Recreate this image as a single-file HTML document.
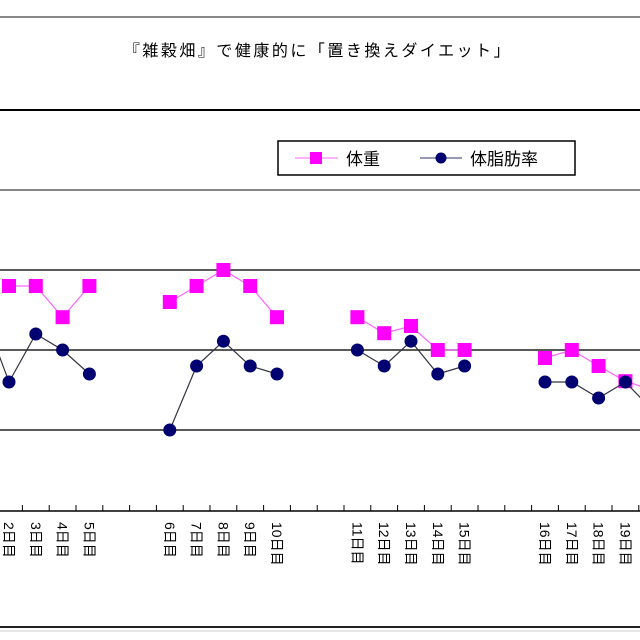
<!DOCTYPE html>
<html><head><meta charset="utf-8"><style>
body{margin:0;width:640px;height:640px;background:#fff;overflow:hidden;font-family:"Liberation Sans","Noto Sans CJK JP",sans-serif}
</style></head><body>
<svg id="c" width="640" height="640" style="position:absolute;left:0;top:0">
<line x1="0" y1="17" x2="640" y2="17" stroke="#888" stroke-width="2"/>
<text x="318" y="56" font-size="16" letter-spacing="2.5" text-anchor="middle" fill="#000">『雑穀畑』で健康的に「置き換えダイエット」</text>
<line x1="0" y1="110" x2="640" y2="110" stroke="#000" stroke-width="2"/>
<line x1="0" y1="190" x2="640" y2="190" stroke="#888" stroke-width="2"/>
<g>
<rect x="278" y="141" width="297" height="34" fill="#fff" stroke="#000" stroke-width="1.5"/>
<g>
<line x1="295" y1="158" x2="338" y2="158" stroke="#f6f"/><rect x="310" y="152" width="12" height="12" fill="#f0f"/>
<text x="346" y="165" font-size="17">体重</text></g>
<g>
<line x1="420" y1="158" x2="462" y2="158" stroke="#336"/><circle cx="441" cy="158" r="5.5" fill="#000070"/>
<text x="470" y="165" font-size="17">体脂肪率</text></g>
</g>
<g id="plot"></g>
<line x1="0" y1="627" x2="640" y2="627" stroke="#222" stroke-width="2"/>
<line x1="0" y1="631" x2="640" y2="631" stroke="#ccc" stroke-width="1"/>
</svg>
<script>
const slots = ["1日目","2日目","3日目","4日目","5日目","","","6日目","7日目","8日目","9日目","10日目","","","11日目","12日目","13日目","14日目","15日目","","","16日目","17日目","18日目","19日目","20日目"];
const weight = [null,58,58,54.1,58,null,null,56,58,60,58,54.1,null,null,54.1,52.1,53,50,50,null,null,49,50,48,46.1,45];
const bodyFat = [55,46,52,50,47,null,null,40,48,51.1,48,47,null,null,50,48,51.1,47,48,null,null,46,46,44,46,42.5];
const gridVals = [40,50,60];
const NS="http://www.w3.org/2000/svg";
const plot=document.getElementById('plot');
const x0=-17.8, step=26.8;
function xs(i){return x0+i*step;}
function ys(v){return 350-(v-50)*8;}
function mk(t,a){const e=document.createElementNS(NS,t);for(const k in a)e.setAttribute(k,a[k]);plot.appendChild(e);return e;}
gridVals.forEach(v=>{const g=mk('line',{x1:0,x2:640,y1:ys(v),y2:ys(v),stroke:'#222','stroke-width':1.5});

});
const ax=mk('line',{x1:0,x2:640,y1:511,y2:511,stroke:'#000','stroke-width':1.5});


for(let i=0;i<=slots.length;i++){const t=mk('line',{x1:xs(i)-step/2,x2:xs(i)-step/2,y1:505,y2:511,stroke:'#000'});

}
slots.forEach((s,i)=>{if(!s)return;const lx=xs(i)-5, ly=522;
const t=mk('text',{x:lx,y:ly,'font-size':14,transform:'rotate(90 '+lx+' '+ly+')',fill:'#000'});
t.textContent=s;

});
function series(arr,col,lineCol,name,marker){
 let seg=[];const segs=[];
 arr.forEach((v,i)=>{if(v==null){if(seg.length)segs.push(seg);seg=[];}else seg.push([xs(i),ys(v)]);});
 if(seg.length)segs.push(seg);
 segs.forEach(s=>{const p=mk('polyline',{points:s.map(q=>q.join(',')).join(' '),fill:'none',stroke:lineCol,'stroke-width':1.2});
 
 });
 arr.forEach((v,i)=>{if(v==null)return;let m;
  if(marker==='sq')m=mk('rect',{x:xs(i)-7,y:ys(v)-7,width:14,height:14,fill:col});
  else m=mk('circle',{cx:xs(i),cy:ys(v),r:6.5,fill:col});
  
  });
}
series(weight,'#f0f','#f6f','weight','sq');
series(bodyFat,'#000070','#334','bodyfat','ci');
</script>
</body></html>
